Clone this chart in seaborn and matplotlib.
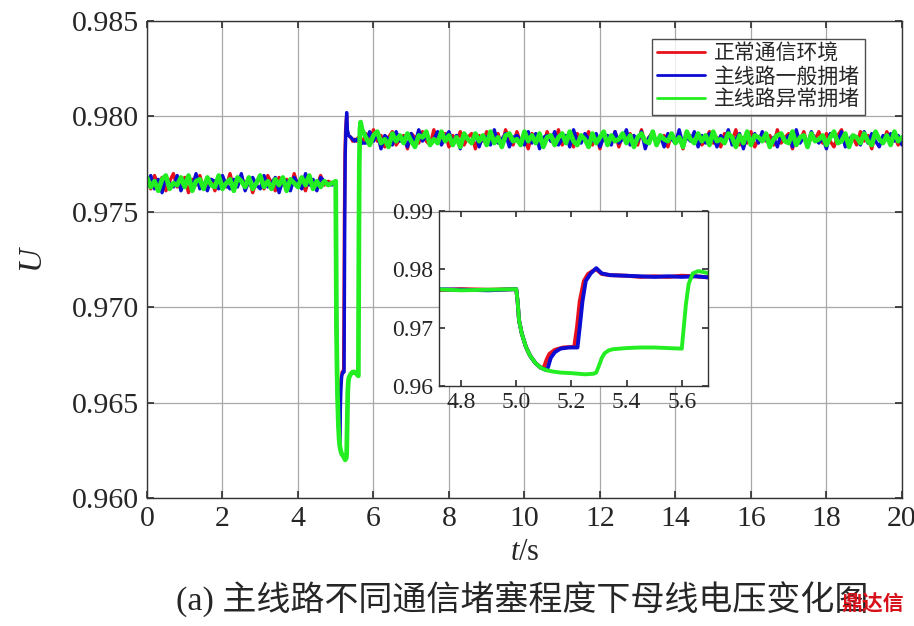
import numpy as np
import pandas as pd
import matplotlib
matplotlib.use("Agg")
import matplotlib.pyplot as plt
import seaborn as sns

# ---------------- data ----------------
SERIES = ["正常通信环境", "主线路一般拥堵", "主线路异常拥堵"]
COLORS = ["#e8101a", "#0c0cd2", "#22ee22"]

PRE_LEVEL = 0.9765
POST_LEVEL = 0.9788
T_PRE = np.round(np.arange(0, 4.95, 0.1), 1)      # 0 .. 4.9 s
T_POST = np.round(np.arange(5.8, 20.05, 0.1), 1)  # 5.8 .. 20 s

# ripple, units of 1e-4 p.u.
red_pre = [2,-3,4,-1,3,-4,1,5,-2,0, 3,-5,2,-1,4,-3,0,2,-4,3, 1,-2,5,-3,-1,4,-2,3,-5,1,
           2,-3,4,0,-4,3,-1,2,-3,5, -2,1,-4,3,0,-2,4,-1,1,0]
blue_pre = [-1,4,-3,2,-5,3,0,-2,4,-4, 1,3,-2,5,-3,0,-4,2,1,-3, 4,-1,-3,2,-2,5,-4,1,3,-1,
            -3,4,-2,0,3,-5,2,1,-4,3, 0,-3,5,-1,2,-4,3,1,0,-1]
green_pre = [3,-2,1,-4,2,4,-3,0,-1,3, -2,4,-4,1,2,-3,3,-1,-2,4, -3,0,2,-4,3,1,-2,3,-3,0,
             4,-2,1,-3,2,-1,3,-4,2,0, -2,3,-1,4,-3,1,-2,1,-1,0]

red_post = [3,-2,5,-1,2,-4,1,4,-3,0, 2,-5,3,1,-2,4,-1,-3,5,-2, 0,3,-4,2,-1,4,-3,1,3,-5,
            2,-1,4,-2,0,3,-4,5,-1,-3, 4,-2,1,-5,3,0,2,-3,4,-1, -2,5,-3,1,2,-4,3,-1,0,4,
            -3,2,-5,3,1,-2,4,-4,2,0, 3,-1,-3,5,-2,1,4,-3,0,2, -4,3,-1,2,-5,4,1,-2,3,-3,
            0,4,-2,1,-4,3,2,-1,5,-3, 1,-2,4,-4,0,3,-1,2,-3,5, -2,1,3,-5,2,-1,4,-3,1,0,
            4,-2,3,-1,-4,2,5,-3,0,1, -3,4,-1,2,-5,3,0,-2,4,-1, 2,-3,1]
blue_post = [-2,4,-1,3,-5,2,0,-3,4,-1, 1,-4,3,-2,5,-1,2,-3,0,4, -3,1,4,-2,2,-5,3,0,-1,3,
             -4,2,1,-3,5,-2,0,3,-4,1, 2,-1,-3,4,-2,3,-5,1,2,-1, 4,-3,0,2,-4,5,-1,-2,3,0,
             -1,3,-4,1,2,-3,4,-2,0,5, -3,2,-1,4,-5,1,3,-2,2,-4, 3,0,-2,5,-3,1,-1,4,-4,2,
             -2,3,1,-4,2,-1,5,-3,0,3, -5,2,-1,3,-2,4,0,-3,1,-4, 3,-1,2,-4,5,-2,1,-3,4,0,
             -2,1,-5,3,2,-1,4,-4,0,2, 1,-3,4,-2,3,-1,-4,2,0,3, -1,2,-3]
green_post = [1,-3,2,4,-2,0,-4,3,-1,2, -2,3,-1,-4,2,1,4,-3,0,-2, 4,-1,2,-3,1,-4,3,0,-2,3,
              -1,2,-3,4,-2,1,-4,2,3,-1, 0,-3,4,-1,2,-2,3,-4,1,2, -3,1,3,-2,4,-1,-3,2,0,-4,
              3,-2,1,4,-3,2,-1,0,3,-2, 2,-4,1,3,-1,-2,4,-3,2,0, -1,3,-2,1,-4,4,0,-2,3,-1,
              2,-3,4,-1,0,-2,3,1,-4,2, -2,4,-3,2,1,-1,3,-4,0,2, 3,-1,-2,4,-3,1,2,-4,3,-1,
              0,2,-3,1,4,-2,-1,3,-4,2, 1,-2,3,-1,-3,4,0,-2,2,-3, 4,-1,1]

# transient 5.0 .. 5.7 s
red_kt = [5.0,5.005,5.01,5.02,5.035,5.05,5.07,5.09,5.10,5.11,5.12,5.14,5.17,5.21,5.22,
          5.23,5.245,5.26,5.28,5.29,5.31,5.34,5.4,5.45,5.5,5.55,5.6,5.65,5.7]
red_kv = [0.9766,0.9745,0.9713,0.9690,0.9667,0.9652,0.9639,0.9631,0.9632,0.9645,0.9655,
          0.9662,0.9666,0.9667,0.9700,0.9745,0.9780,0.9792,0.9798,0.9800,0.9792,0.9790,
          0.9789,0.9787,0.9788,0.9787,0.9789,0.9788,0.9786]
blue_kt = [5.0,5.005,5.01,5.02,5.035,5.05,5.07,5.09,5.11,5.115,5.125,5.14,5.16,5.19,5.222,
           5.23,5.24,5.252,5.27,5.29,5.31,5.34,5.4,5.45,5.5,5.55,5.6,5.65,5.7]
blue_kv = [0.9766,0.9745,0.9713,0.9690,0.9667,0.9652,0.9639,0.9631,0.9627,0.9632,0.9648,
           0.9658,0.9664,0.9666,0.9666,0.9700,0.9745,0.9780,0.9793,0.9802,0.9793,0.9790,
           0.9789,0.9788,0.9787,0.9788,0.9787,0.9788,0.9786]
green_kt = [5.0,5.005,5.01,5.02,5.035,5.05,5.07,5.09,5.11,5.13,5.16,5.2,5.25,5.28,5.29,
            5.30,5.31,5.32,5.335,5.35,5.4,5.45,5.5,5.55,5.6,5.605,5.615,5.625,5.64,5.66,
            5.68,5.7]
green_kv = [0.9766,0.9745,0.9713,0.9690,0.9667,0.9652,0.9639,0.9631,0.9627,0.9625,0.9623,
            0.9622,0.9620,0.9621,0.9623,0.9635,0.9648,0.9656,0.9661,0.9663,0.9665,0.9666,
            0.9666,0.9665,0.9664,0.9690,0.9740,0.9775,0.9793,0.9797,0.9795,0.9793]

X_TICKS = list(range(0, 21, 2))
Y_TICKS = [0.960, 0.965, 0.970, 0.975, 0.980, 0.985]
IN_X_TICKS = [4.8, 5.0, 5.2, 5.4, 5.6]
IN_Y_TICKS = [0.96, 0.97, 0.98, 0.99]


def build(pre, kt, kv, post):
    t = np.concatenate([T_PRE, kt, T_POST])
    v = np.concatenate([PRE_LEVEL + np.array(pre) * 1e-4, kv,
                        POST_LEVEL + np.array(post) * 1e-4])
    return t, v


frames = []
for name, pre, kt, kv, post in [
        (SERIES[0], red_pre, red_kt, red_kv, red_post),
        (SERIES[1], blue_pre, blue_kt, blue_kv, blue_post),
        (SERIES[2], green_pre, green_kt, green_kv, green_post)]:
    t, v = build(pre, kt, kv, post)
    frames.append(pd.DataFrame({"t": t, "U": v, "case": name}))
df = pd.concat(frames, ignore_index=True)

# ---------------- style ----------------
sns.set_theme(style="ticks")
plt.rcParams["font.family"] = ["Liberation Serif", "Noto Sans CJK SC"]
plt.rcParams["mathtext.fontset"] = "custom"
plt.rcParams["mathtext.rm"] = "Liberation Serif"
plt.rcParams["mathtext.it"] = "Liberation Serif:italic"
plt.rcParams["axes.unicode_minus"] = False

fig = plt.figure(figsize=(9.14, 6.26), dpi=100)
ax = fig.add_axes([0.1608, 0.2045, 0.826, 0.762])

palette = dict(zip(SERIES, COLORS))
main_lw = [2.4, 2.4, 3.4]
for name, lw in zip(SERIES, main_lw):
    d = df[df["case"] == name]
    sns.lineplot(data=d, x="t", y="U", color=palette[name], lw=lw, ax=ax,
                 label=name, estimator=None, sort=False)

ax.set_xlim(0, 20)
ax.set_ylim(0.960, 0.985)
ax.set_xticks(X_TICKS)
ax.set_xticklabels([str(x) for x in X_TICKS])
ax.set_yticks(Y_TICKS)
ax.set_yticklabels([f"{y:.3f}" for y in Y_TICKS])
ax.grid(True, color="#a8a8a8", lw=0.9)
ax.set_axisbelow(True)
ax.tick_params(direction="in", top=True, right=True, labelsize=21.5, length=5,
               color="#333333", pad=6)
for s in ax.spines.values():
    s.set_color("#333333")
    s.set_linewidth(1.0)
ax.set_xlabel(r"$\mathit{t}$/s", fontsize=22, labelpad=4)
ax.set_ylabel(r"$\mathit{U}$", fontsize=24, labelpad=16)

leg = ax.legend(loc="upper right", bbox_to_anchor=(0.951, 0.962), fontsize=15,
                frameon=True, fancybox=False, handlelength=2.3, borderpad=0.25,
                labelspacing=0.15, handletextpad=0.4, borderaxespad=0)
leg.get_frame().set_edgecolor("#222222")
leg.get_frame().set_linewidth(1.0)
for line in leg.get_lines():
    line.set_linewidth(2.0)

# inset
axi = fig.add_axes([0.4803, 0.3834, 0.2943, 0.2796])
for name in SERIES:
    d = df[df["case"] == name]
    sns.lineplot(data=d, x="t", y="U", color=palette[name], lw=2.8, ax=axi,
                 estimator=None, sort=False, legend=False)
axi.set_xlim(4.72, 5.695)
axi.set_ylim(0.96, 0.99)
axi.set_xticks(IN_X_TICKS)
axi.set_xticklabels([f"{x:.1f}" for x in IN_X_TICKS])
axi.set_yticks(IN_Y_TICKS)
axi.set_yticklabels([f"{y:.2f}" for y in IN_Y_TICKS])
axi.set_xlabel("")
axi.set_ylabel("")
axi.set_facecolor("white")
axi.tick_params(direction="in", top=True, right=True, labelsize=17, length=4,
                color="#333333", pad=4)
for s in axi.spines.values():
    s.set_color("#333333")
    s.set_linewidth(1.0)

fig.text(0.571, 0.042, "(a) 主线路不同通信堵塞程度下母线电压变化图", fontsize=24.5,
         ha="center", va="center")
fig.text(0.955, 0.035, "鼎达信", fontsize=15, color="#d8101a", fontweight="bold",
         ha="center", va="center", family=["Noto Sans CJK SC"])

fig.savefig("out.png", dpi=100)
